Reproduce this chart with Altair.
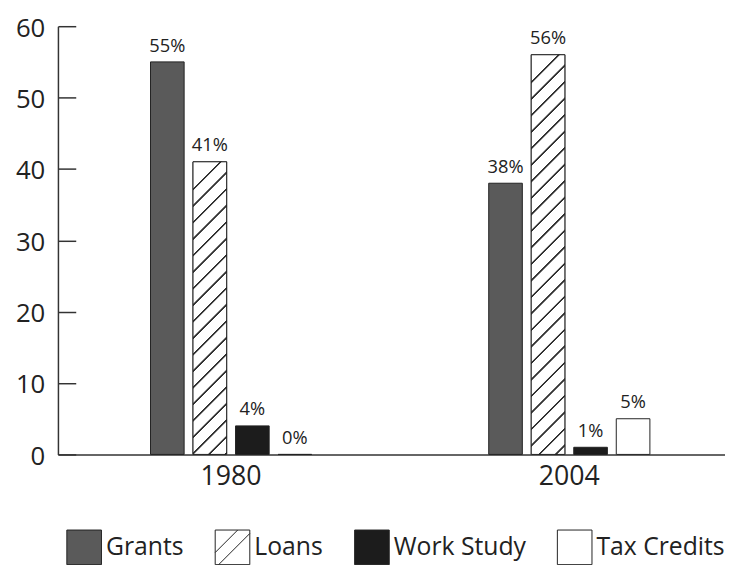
import altair as alt
import pandas as pd

# ---- data ----
years = ["1980", "2004"]
types = ["Grants", "Loans", "Work Study", "Tax Credits"]
values_1980 = [55, 41, 4, 0]
values_2004 = [38, 56, 1, 5]
y_ticks = [0, 10, 20, 30, 40, 50, 60]

rows = []
for yr, vals in zip(years, [values_1980, values_2004]):
    for t, v in zip(types, vals):
        rows.append({"Year": yr, "Type": t, "Value": v, "Label": f"{v}%"})
df = pd.DataFrame(rows)

# ---- styling ----
FONT = "Open Sans"
INK = "#222222"
LINE = "#333333"
GRANTS = "#5a5a5a"
WORK = "#1c1c1c"
PLOT_W = 674.5
PLOT_H = 433
Y_MAX = 60
BAR_W = 34
HATCH_SPACING = 16.7
HATCH_PHASE = 28
HATCH_LW = 1.2


def hatch(value):
    """Diagonal hatch drawn as a hard-stop linear gradient over one bar."""
    w = BAR_W
    h = value * PLOT_H / Y_MAX
    L = w + h
    a = L * w / (w * w + h * h)
    b = a * h / w
    half = HATCH_LW * 2 ** 0.5 / 2
    soft = 0.7
    stops = [{"offset": 0, "color": "white"}]
    c = HATCH_PHASE
    while c - half - soft < L:
        for off, col in [(c - half - soft, "white"), (c - half, LINE),
                         (c + half, LINE), (c + half + soft, "white")]:
            o = min(max(off / L, 0.0), 1.0)
            stops.append({"offset": round(o, 5), "color": col})
        c += HATCH_SPACING
    stops.append({"offset": 1, "color": "white"})
    return {"gradient": "linear", "x1": 0, "y1": 0, "x2": a, "y2": b, "stops": stops}


loans_path = "M-1,-1L1,-1L1,1L-1,1Z M-1,0.3L0.3,-1 M-0.8,1L1,-0.8"

x_enc = alt.X(
    "Year:N", sort=years,
    scale=alt.Scale(domain=years, paddingInner=0.4971, paddingOuter=0.2347, align=0.555),
    axis=alt.Axis(title=None, ticks=False, domainColor=LINE, domainWidth=1.5,
                  labelFont=FONT, labelFontSize=27, labelColor=INK,
                  labelPadding=9, labelAngle=0),
)
xo_enc = alt.XOffset(
    "Type:N", sort=types,
    scale=alt.Scale(domain=types, paddingInner=0.2093, paddingOuter=0.1047),
)
y_enc = alt.Y(
    "Value:Q",
    scale=alt.Scale(domain=[0, Y_MAX], nice=False),
    axis=alt.Axis(values=y_ticks, title=None, grid=False,
                  domainColor=LINE, domainWidth=1.5,
                  tickColor=LINE, tickWidth=1.5, tickSize={"expr": "-18"},
                  labelPadding=31.3, labelOffset=2,
                  labelFont=FONT, labelFontSize=26, labelColor=INK),
)

base = alt.Chart(df).encode(x=x_enc, xOffset=xo_enc, y=y_enc)

legend_def = alt.Legend(
    title=None, orient="none", legendX=8.5, legendY=508.7,
    direction="horizontal", columns=4, columnPadding=29,
    symbolSize=1225, symbolStrokeWidth=1, symbolOpacity=1,
    labelFont=FONT, labelFontSize=25, labelColor=INK, labelOffset=4,
    padding=0,
)

legend_layer = base.mark_point(filled=True, size=0, opacity=1).encode(
    fill=alt.Fill("Type:N", scale=alt.Scale(domain=types, range=[GRANTS, "white", WORK, "white"]),
                  legend=legend_def),
    shape=alt.Shape("Type:N", scale=alt.Scale(domain=types, range=["square", loans_path, "square", "square"]),
                    legend=legend_def),
    stroke=alt.Stroke("Type:N", scale=alt.Scale(domain=types, range=[INK] * 4),
                      legend=legend_def),
)

bars = base.mark_bar(stroke=INK, strokeWidth=1).encode(
    fill=alt.when(alt.datum.Type == "Grants").then(alt.value(GRANTS))
    .when(alt.datum.Type == "Work Study").then(alt.value(WORK))
    .otherwise(alt.value("white"))
)

hatch_layers = []
for yr, vals in zip(years, [values_1980, values_2004]):
    loans_val = vals[types.index("Loans")]
    hatch_layers.append(
        base.transform_filter((alt.datum.Type == "Loans") & (alt.datum.Year == yr))
        .mark_bar(fill=hatch(loans_val), stroke=INK, strokeWidth=1)
    )

labels = base.mark_text(font=FONT, fontSize=18.5, color=INK, baseline="alphabetic", dy=-10.5).encode(
    text="Label:N"
)

chart = alt.layer(legend_layer, bars, *hatch_layers, labels).properties(
    width=PLOT_W,
    height=PLOT_H,
    padding={"left": 50.5, "top": 15.3, "right": 0, "bottom": 108.7},
    autosize=alt.AutoSizeParams(type="none"),
    background="white",
).configure_view(stroke=None)

chart.save("out.html", embed_options={"renderer": "svg", "actions": False})
